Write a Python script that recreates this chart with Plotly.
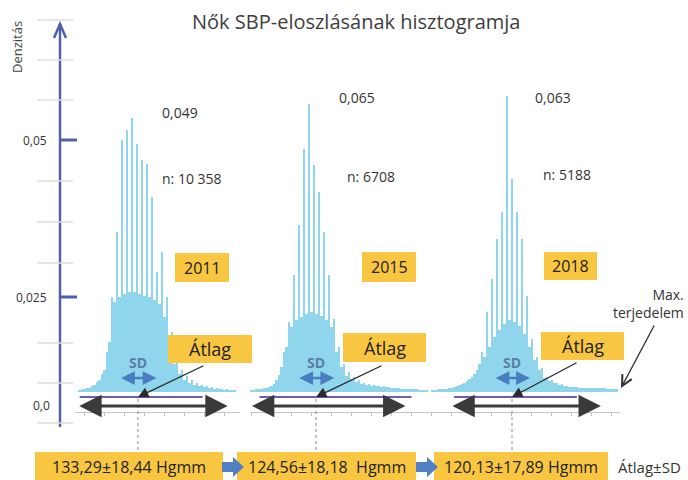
import numpy as np
import plotly.graph_objects as go

W, H = 688, 480

# ---------------- data ----------------
years = ["2011", "2015", "2018"]
n_labels = ["n: 10 358", "n: 6708", "n: 5188"]
peak_labels = ["0,049", "0,065", "0,063"]
peaks = [0.049, 0.065, 0.063]
means = [133.29, 124.56, 120.13]
sds = [18.44, 18.18, 17.89]
range_min = [73, 59, 59]
range_max = [223, 214, 209]
line_min = [75, 68, 62]
line_max = [198, 220, 185]
summary = ["133,29±18,44 Hgmm", "124,56±18,18  Hgmm", "120,13±17,89 Hgmm"]
y_tick_labels = ["0,05", "0,025", "0,0"]

bin_width = 2.5
bin_start = [75, 60, 40]

dens_2011 = [0.0004, 0.0005, 0.0005, 0.0007, 0.0007, 0.0011, 0.0013, 0.0018, 0.0021, 0.0032,
             0.0039, 0.0072, 0.0089, 0.0170, 0.0161, 0.0286, 0.0170, 0.0451, 0.0175, 0.0469,
             0.0179, 0.0490, 0.0179, 0.0443, 0.0175, 0.0415, 0.0172, 0.0408, 0.0170, 0.0349,
             0.0164, 0.0215, 0.0157, 0.0250, 0.0134, 0.0170, 0.0080, 0.0107, 0.0050, 0.0057,
             0.0032, 0.0039, 0.0021, 0.0029, 0.0016, 0.0021, 0.0013, 0.0016, 0.0011, 0.0013,
             0.0009, 0.0011, 0.0007, 0.0009, 0.0005, 0.0007, 0.0005, 0.0005, 0.0004, 0.0005,
             0.0004, 0.0004, 0.0004]

dens_2015 = [0.0005, 0.0005, 0.0007, 0.0007, 0.0007, 0.0009, 0.0009, 0.0011, 0.0014, 0.0018,
             0.0027, 0.0038, 0.0056, 0.0090, 0.0102, 0.0158, 0.0147, 0.0264, 0.0163, 0.0377,
             0.0169, 0.0548, 0.0176, 0.0650, 0.0181, 0.0512, 0.0176, 0.0451, 0.0172, 0.0361,
             0.0163, 0.0264, 0.0147, 0.0165, 0.0090, 0.0102, 0.0056, 0.0063, 0.0036, 0.0045,
             0.0029, 0.0034, 0.0023, 0.0027, 0.0018, 0.0020, 0.0016, 0.0018, 0.0014, 0.0016,
             0.0014, 0.0014, 0.0011, 0.0014, 0.0011, 0.0011, 0.0009, 0.0009, 0.0009, 0.0009,
             0.0007, 0.0007, 0.0007, 0.0007, 0.0007, 0.0007, 0.0007, 0.0005, 0.0005, 0.0005,
             0.0005]

dens_2018 = [0.0004, 0.0004, 0.0004, 0.0006, 0.0006, 0.0006, 0.0006, 0.0009, 0.0009, 0.0011,
             0.0013, 0.0015, 0.0017, 0.0019, 0.0023, 0.0028, 0.0032, 0.0038, 0.0047, 0.0060,
             0.0085, 0.0074, 0.0170, 0.0096, 0.0240, 0.0117, 0.0326, 0.0132, 0.0383, 0.0145,
             0.0630, 0.0153, 0.0453, 0.0149, 0.0383, 0.0140, 0.0326, 0.0123, 0.0204, 0.0096,
             0.0113, 0.0068, 0.0074, 0.0047, 0.0051, 0.0030, 0.0032, 0.0023, 0.0026, 0.0019,
             0.0019, 0.0015, 0.0017, 0.0013, 0.0013, 0.0011, 0.0011, 0.0011, 0.0011, 0.0009,
             0.0009, 0.0009, 0.0009, 0.0009, 0.0009, 0.0009, 0.0009, 0.0009, 0.0009, 0.0009,
             0.0006, 0.0006, 0.0006, 0.0006, 0.0006]

densities = [dens_2011, dens_2015, dens_2018]

# ---------------- layout helpers (pixel -> paper) ----------------
def X(px):
    return px / W

def Y(py):
    return 1 - py / H

FONT = "Open Sans"
YELLOW = "#f8c640"
BAR = "#8fd5eb"
AXBLUE = "#4f60a8"
DARK = "#333333"

panel_px = [(75, 240), (250, 428), (428, 620)]
mean_px = [138, 316, 512]
peak_h = [274, 288, 296]
base_py, top_py, axis_py = 392, 20, 412

fig = go.Figure()
layout = dict()
for i in range(3):
    centers = bin_start[i] + bin_width * np.arange(len(densities[i]))
    xa = "x" if i == 0 else f"x{i+1}"
    ya = "y" if i == 0 else f"y{i+1}"
    fig.add_trace(go.Bar(x=centers, y=densities[i], width=bin_width,
                         marker=dict(color=BAR, line=dict(width=0)),
                         xaxis=xa, yaxis=ya, showlegend=False,
                         hovertemplate="%{x} Hgmm: %{y}<extra>" + years[i] + "</extra>"))
    l, r = panel_px[i]
    off = means[i] - mean_px[i]
    ymax = peaks[i] * (base_py - top_py) / peak_h[i]
    ymin = -peaks[i] * (axis_py - base_py) / peak_h[i]
    key = "" if i == 0 else str(i + 1)
    layout["xaxis" + key] = dict(domain=[X(l), X(r)], range=[l + off, r + off],
                                 anchor=ya, showline=True, linecolor="#c4c4c4", linewidth=1,
                                 ticks="outside", ticklen=3, tickcolor="#c4c4c4", dtick=20,
                                 showticklabels=False, showgrid=False, zeroline=False)
    layout["yaxis" + key] = dict(domain=[Y(axis_py), Y(top_py)], range=[ymin, ymax],
                                 anchor=xa, visible=False, showgrid=False, zeroline=False)

shapes = []
annotations = []

def text(px, py, s, size, color=DARK, xanchor="center", **kw):
    annotations.append(dict(x=X(px), y=Y(py), xref="paper", yref="paper", text=s, showarrow=False,
                            xanchor=xanchor, yanchor="middle",
                            font=dict(size=size, color=color, family=FONT), **kw))

# left decorative density axis
shapes.append(dict(type="line", xref="paper", yref="paper", x0=X(60), x1=X(60), y0=Y(427), y1=Y(24),
                   line=dict(color=AXBLUE, width=2.5)))
shapes.append(dict(type="path", xref="paper", yref="paper",
                   path=f"M{X(54)},{Y(38)} L{X(60)},{Y(24)} L{X(66)},{Y(38)}",
                   line=dict(color=AXBLUE, width=2.5)))
for py in [20, 60, 100, 181, 222, 263, 343, 383, 423]:
    shapes.append(dict(type="line", xref="paper", yref="paper", x0=X(37), x1=X(73), y0=Y(py), y1=Y(py),
                       line=dict(color="#dcdcdc", width=1.5)))
for py, lab in zip([140, 297, 405], y_tick_labels):
    if lab != "0,0":
        shapes.append(dict(type="line", xref="paper", yref="paper", x0=X(60), x1=X(77), y0=Y(py), y1=Y(py),
                           line=dict(color=AXBLUE, width=3)))
    text(49 if lab != "0,0" else 52, py, lab, 12, xanchor="right")
text(17, 47, "Denzitás", 13, color="#444", textangle=-90)

# title
text(356, 22, "Nők SBP-eloszlásának hisztogramja", 20, color="#3d3d3d")

peak_lab_px = [(180, 113), (357, 98), (553, 97)]
n_lab_px = [(160, 178), (345, 176), (541, 175)]
year_box = [(175, 253, 229, 282), (362, 252, 416, 282), (544, 252, 597, 280)]
atlag_box = [(168, 335, 252, 363), (343, 333, 426, 362), (541, 332, 624, 360)]
atlag_tail = [(205, 365), (383, 365), (578, 362)]

for i in range(3):
    xa = "x" if i == 0 else f"x{i+1}"
    text(*peak_lab_px[i], peak_labels[i], 14)
    text(*n_lab_px[i], n_labels[i], 14, xanchor="left")
    # year box
    x0, y0, x1, y1 = year_box[i]
    shapes.append(dict(type="rect", xref="paper", yref="paper", x0=X(x0), x1=X(x1), y0=Y(y1), y1=Y(y0),
                       fillcolor=YELLOW, line=dict(width=0)))
    text((x0 + x1) / 2, (y0 + y1) / 2, years[i], 16, color="#222")
    # Átlag box
    x0, y0, x1, y1 = atlag_box[i]
    shapes.append(dict(type="rect", xref="paper", yref="paper", x0=X(x0), x1=X(x1), y0=Y(y1), y1=Y(y0),
                       fillcolor=YELLOW, line=dict(width=0)))
    text((x0 + x1) / 2, (y0 + y1) / 2, "Átlag", 18, color="#222")
    # purple line
    shapes.append(dict(type="line", xref=xa, yref="paper", x0=line_min[i], x1=line_max[i],
                       y0=Y(397), y1=Y(397), line=dict(color="#6c5fb0", width=2)))
    # mean dashed line
    shapes.append(dict(type="line", xref=xa, yref="paper", x0=means[i], x1=means[i],
                       y0=Y(450), y1=Y(396), line=dict(color="#8a8a8a", width=1, dash="dot")))
    # max range double arrow
    annotations.append(dict(x=range_max[i], y=Y(406), xref=xa, yref="paper", ax=range_min[i], ay=0,
                            axref=xa, ayref="pixel", text="", showarrow=True, arrowside="end+start",
                            arrowhead=2, arrowsize=1.4, arrowwidth=3.2, arrowcolor="#3a3a3a"))
    # SD double arrow
    annotations.append(dict(x=means[i] + sds[i], y=Y(378), xref=xa, yref="paper", ax=means[i] - sds[i], ay=0,
                            axref=xa, ayref="pixel", text="", showarrow=True, arrowside="end+start",
                            arrowhead=2, arrowsize=1.1, arrowwidth=2.5, arrowcolor="#4a7cc0"))
    annotations.append(dict(x=means[i], y=Y(362), xref=xa, yref="paper", text="<b>SD</b>", showarrow=False,
                            xanchor="center", yanchor="middle",
                            font=dict(size=14, color="#5b7ea6", family=FONT)))
    # Átlag pointer
    annotations.append(dict(x=means[i], y=Y(397), xref=xa, yref="paper",
                            ax=atlag_tail[i][0] - mean_px[i], ay=atlag_tail[i][1] - 397,
                            text="", showarrow=True, arrowhead=2, arrowsize=1.6, arrowwidth=1.3,
                            arrowcolor="#2a2a2a"))

# bottom summary boxes
bottom_box = [(35, 223), (237, 416), (434, 608)]
for i in range(3):
    x0, x1 = bottom_box[i]
    shapes.append(dict(type="rect", xref="paper", yref="paper", x0=X(x0), x1=X(x1), y0=Y(481), y1=Y(452),
                       fillcolor=YELLOW, line=dict(width=0)))
    text((x0 + x1) / 2, 467, summary[i], 16, color="#222")
for ax0 in [222, 416]:
    pts = [(ax0, 462), (ax0 + 11, 462), (ax0 + 11, 457), (ax0 + 22, 467), (ax0 + 11, 477), (ax0 + 11, 472), (ax0, 472)]
    path = "M" + " L".join(f"{X(a)},{Y(b)}" for a, b in pts) + " Z"
    shapes.append(dict(type="path", xref="paper", yref="paper", path=path, fillcolor="#4f80c2",
                       line=dict(width=0)))
text(649, 467, "Átlag±SD", 15)

# Max. terjedelem
text(686, 303, "Max.<br>terjedelem", 14, xanchor="right", align="right")
annotations.append(dict(x=X(621), y=Y(388), xref="paper", yref="paper", ax=34, ay=-64, text="",
                        showarrow=True, arrowhead=5, arrowsize=1.6, arrowwidth=1.3, arrowcolor=DARK))

fig.update_layout(width=W, height=H, margin=dict(l=0, r=0, t=0, b=0),
                  paper_bgcolor="white", plot_bgcolor="rgba(0,0,0,0)",
                  bargap=0, barmode="overlay", showlegend=False,
                  font=dict(family=FONT), shapes=shapes, annotations=annotations, **layout)

fig.write_html("out.html", config={"displayModeBar": False},
               post_script="document.body.style.margin='0px';")
